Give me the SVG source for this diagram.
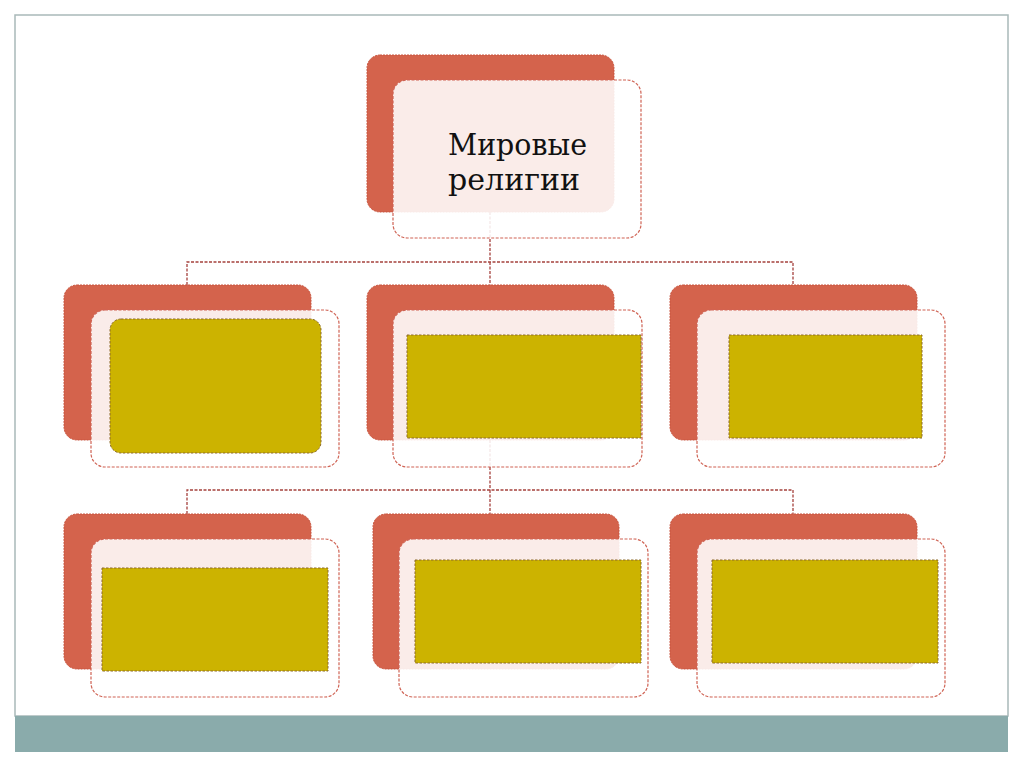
<svg xmlns="http://www.w3.org/2000/svg" width="1024" height="767" viewBox="0 0 1024 767">
<style>
.back{fill:#d4634c;stroke:#c8553f;stroke-width:1;stroke-dasharray:2,1}
.front{fill:#ffffff;fill-opacity:0.88;stroke:#cf6354;stroke-width:1.2;stroke-dasharray:3,1.5}
.box{fill:#ccb300;stroke:#8c6a2a;stroke-width:1;stroke-dasharray:2.5,1.5}
.conn{fill:none;stroke:#a5413d;stroke-width:1.3;stroke-dasharray:3,1.5}
.lbl{font-family:"DejaVu Serif","Liberation Serif",serif;font-size:29px;fill:#111}
</style>
<rect x="0" y="0" width="1024" height="767" fill="#ffffff"/>
<rect x="15" y="15" width="993" height="701" fill="#ffffff" stroke="#a9b9b9" stroke-width="1.5"/>
<rect x="15" y="716" width="993" height="36" fill="#8aabab"/>
<g id="connectors">
<path class="conn" d="M490,212 V262 M187,285 V262 H793 V285 M490,262 V285"/>
<path class="conn" d="M490,440 V490 M187,514 V490 H793 V514 M490,490 V514"/>
</g>
<g id="root">
<rect class="back" x="367" y="55" width="247" height="157" rx="13"/>
<rect class="front" x="393" y="80" width="248" height="158" rx="14"/>
<text class="lbl" x="448" y="155" textLength="139" lengthAdjust="spacingAndGlyphs">Мировые</text>
<text class="lbl" x="448" y="190" textLength="132" lengthAdjust="spacingAndGlyphs">религии</text>
</g>
<g id="n1">
<rect class="back" x="64" y="285" width="247" height="155" rx="13"/>
<rect class="front" x="91" y="310" width="248" height="157" rx="14"/>
<rect class="box" x="110" y="319" width="211" height="134" rx="11"/>
</g>
<g id="n2">
<rect class="back" x="367" y="285" width="247" height="155" rx="13"/>
<rect class="front" x="393" y="310" width="249" height="157" rx="14"/>
<rect class="box" x="407" y="335" width="234" height="103"/>
</g>
<g id="n3">
<rect class="back" x="670" y="285" width="247" height="155" rx="13"/>
<rect class="front" x="697" y="310" width="248" height="157" rx="14"/>
<rect class="box" x="729" y="335" width="193" height="103"/>
</g>
<g id="n4">
<rect class="back" x="64" y="514" width="247" height="155" rx="13"/>
<rect class="front" x="91" y="539" width="248" height="158" rx="14"/>
<rect class="box" x="102" y="568" width="226" height="103"/>
</g>
<g id="n5">
<rect class="back" x="373" y="514" width="246" height="155" rx="13"/>
<rect class="front" x="399" y="539" width="249" height="158" rx="14"/>
<rect class="box" x="415" y="560" width="226" height="103"/>
</g>
<g id="n6">
<rect class="back" x="670" y="514" width="247" height="155" rx="13"/>
<rect class="front" x="697" y="539" width="248" height="158" rx="14"/>
<rect class="box" x="712" y="560" width="226" height="103"/>
</g>
</svg>
